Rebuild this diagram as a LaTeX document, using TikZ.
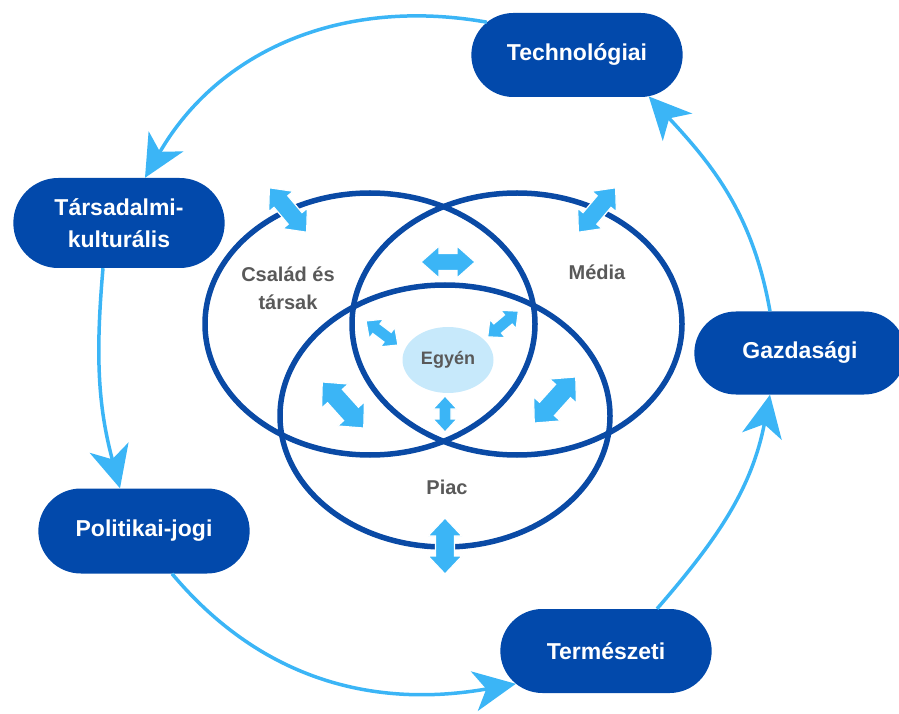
\documentclass[tikz,border=0pt]{standalone}
\usepackage{fontspec}
\setmainfont{Liberation Sans}
\usetikzlibrary{arrows.meta,shapes.misc,shapes.geometric}

\definecolor{navy}{HTML}{0249AB}
\definecolor{ring}{HTML}{0A4AA5}
\definecolor{sky}{HTML}{3BB5F6}
\definecolor{pale}{HTML}{C7E9FB}
\definecolor{label}{HTML}{595959}

\tikzset{
  factor/.style={rounded rectangle, fill=navy, text=white, minimum width=218pt,
    minimum height=84pt, align=center, font=\fontsize{23}{32}\selectfont\bfseries},
  sphere/.style={draw=ring, line width=5.5pt},
  flow/.style={sky, line width=3.5pt, -{Stealth[length=42pt,width=40pt,inset=12pt]}},
  tag/.style={text=label, align=center, font=\fontsize{20}{28}\selectfont\bfseries}
}

\begin{document}
\begin{tikzpicture}[x=1pt,y=1pt]
        % two-way arrow: centre, angle, half length, shaft, head width, head length
        \def\twoway#1#2#3#4#5#6{%
          \filldraw[sky, draw=white, line width=1.2pt, shift={#1}, rotate=#2]
            (-#3,0) -- (-#3+#6,#5) -- (-#3+#6,#4) -- (#3-#6,#4) -- (#3-#6,#5) -- (#3,0)
            -- (#3-#6,-#5) -- (#3-#6,-#4) -- (-#3+#6,-#4) -- (-#3+#6,-#5) -- cycle;}

        \useasboundingbox (0,0) rectangle (899,713);

        % Spheres
        \draw[sphere] (370,389) ellipse (165 and 131);
        \draw[sphere] (517,389) ellipse (165 and 131);
        \draw[sphere] (445,297) ellipse (165 and 131);

        % Individual
        \node[ellipse, fill=pale, minimum width=91pt, minimum height=66pt] (egyen) at (448,353) {};
        \node[tag, font=\fontsize{18}{22}\selectfont\bfseries] at (egyen) {Egyén};

        % Interactions
        \twoway{(288,503)}{-50}{29}{9}{16}{18}
        \twoway{(597,503)}{50}{29}{9}{16}{18}
        \twoway{(448,451)}{0}{27}{8.5}{16}{18}
        \twoway{(382,380)}{-37}{20}{6}{12}{13}
        \twoway{(503,389)}{40}{20}{6}{12}{13}
        \twoway{(445,299)}{90}{18}{6}{12}{13}
        \twoway{(343,308)}{-48}{31}{10}{18}{19}
        \twoway{(555,313)}{48}{31}{10}{18}{19}
        \twoway{(445,167)}{90}{28}{9.5}{17}{18}

        % Sphere labels
        \node[tag] (csalad) at (288,425) {Család és\\társak};
        \node[tag] (media) at (597,441) {Média};
        \node[tag] (piac) at (447,226) {Piac};

        % Environment
        \node[factor] (tech) at (577,658) {Technológiai};
        \node[factor, minimum height=90pt] (tars) at (119,490) {Társadalmi-\\kulturális};
        \node[factor, minimum height=85pt] (pol) at (144,182) {Politikai-jogi};
        \node[factor] (term) at (606,62) {Természeti};
        \node[factor, minimum height=83pt] (gazd) at (800,360) {Gazdasági};

        \draw[flow] (tech.160) to[out=170, in=60] ([xshift=26pt]tars.north);
        \draw[flow] ([xshift=-16pt]tars.south) to[out=265, in=105] ([xshift=-24pt]pol.north);
        \draw[flow] ([xshift=28pt]pol.south) to[out=-50, in=190] (term.200);
        \draw[flow] ([xshift=51pt]term.north) to[out=49, in=-101] ([xshift=-30pt]gazd.south);
        \draw[flow] ([xshift=-30pt]gazd.north) to[out=100, in=-47] (tech.-30);
\end{tikzpicture}
\end{document}
